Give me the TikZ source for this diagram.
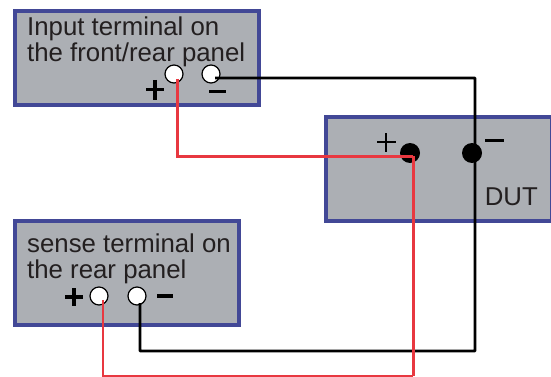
\documentclass[tikz,border=0pt]{standalone}
\usepackage{fontspec}
\setmainfont{Liberation Sans}
\definecolor{boxblue}{RGB}{66,72,150}
\definecolor{boxgray}{RGB}{172,175,180}
\definecolor{wirered}{RGB}{232,56,64}
\definecolor{labelk}{RGB}{35,31,32}
\tikzset{
 x=1pt,y=-1pt,
 panel/.style={draw=boxblue,fill=boxgray,line width=4pt,rectangle,minimum width=#1,inner sep=0pt},
 opent/.style={circle,draw=black,fill=white,line width=1.2pt,minimum size=18pt,inner sep=0pt},
 solidt/.style={circle,fill=black,minimum size=20pt,inner sep=0pt},
 lbl/.style={text=labelk,font=\fontsize{25.8}{26}\selectfont,align=left,inner sep=0pt},
 bwire/.style={draw=black,line width=2.6pt,rounded corners=0.5pt},
 rwire/.style={draw=wirered,line width=3pt},
 rthin/.style={draw=wirered,line width=1.7pt},
 sign/.style={draw=black,line width=3.2pt},
 thinsign/.style={draw=black,line width=2.6pt},
}
\begin{document}
\begin{tikzpicture}
\useasboundingbox (0,0) rectangle (551,377);
% panels
\node[panel=244pt,minimum height=94pt] (input) at (137,58) {};
\node[panel=226pt,minimum height=104pt] (dut) at (439,169) {};
\node[panel=224pt,minimum height=104pt] (sense) at (127,273) {};
% terminals
\node[opent] (ip) at (174,74) {};
\node[opent] (im) at (211,74) {};
\node[opent] (sp) at (99,296) {};
\node[opent] (sm) at (137,296) {};
\node[solidt] (dp) at (410,153) {};
\node[solidt] (dm) at (472,153) {};
% wire ends
\coordinate (ipw) at (177,79);
\coordinate (imw) at (215,78);
\coordinate (spw) at (103,300);
\coordinate (smw) at (140,303);
\coordinate (dpw) at (413,156);
\coordinate (dmw) at (475,153);
% wires
\draw[bwire] (imw) -| (dmw) -- (475,351) coordinate (c1) -| (smw);
\draw[rwire] (ipw) |- (dpw);
\draw[rwire] (dpw) -- (413,376) coordinate (c2);
\draw[rthin] (c2) -| (spw);
% labels
\node[lbl,anchor=base west] (t1) at (27,62) {Input terminal on\\the front/rear panel};
\node[lbl,anchor=base west] (t2) at (27,278) {sense terminal on\\the rear panel};
\node[lbl,anchor=base east] (t3) at (538,205) {DUT};
% signs
\draw[sign] (146,89.5) -- (164,89.5) (155,80) -- (155,100);
\draw[sign] (209,91.5) -- (226,91.5);
\draw[sign] (65,297) -- (83,297) (74,288) -- (74,306);
\draw[sign] (157,296) -- (173,296);
\draw[thinsign] (377,142) -- (396,142) (386,133) -- (386,152);
\draw[thinsign] (485,140.5) -- (504,140.5);
\end{tikzpicture}
\end{document}
